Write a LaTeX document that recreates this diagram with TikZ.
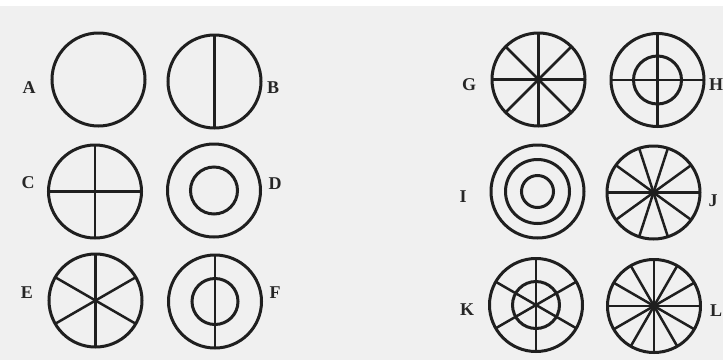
\documentclass[tikz,border=0pt]{standalone}
\usepackage{fontspec}
\setmainfont{Liberation Serif}
\usetikzlibrary{calc}
\begin{document}
\begin{tikzpicture}[x=1pt,y=-1pt,
  ring/.style={line width=3pt,draw=black!88},
  spoke/.style={line width=2.5pt,draw=black!88},
  lab/.style={font=\fontsize{18}{18}\selectfont\bfseries,text=black!85,inner sep=0pt}]
\fill[black!6] (0,0) rectangle (723,360);
\fill[white] (0,0) rectangle (723,6);
\useasboundingbox (0,0) rectangle (723,360);
% centres
\coordinate (cA) at (98.5,79.5);
\coordinate (cB) at (214.5,81.5);
\coordinate (cC) at (95,191.5);
\coordinate (cD) at (214,190.5);
\coordinate (cE) at (95.5,300.5);
\coordinate (cF) at (215,301.5);
\coordinate (cG) at (538.5,79.5);
\coordinate (cH) at (657.5,80);
\coordinate (cI) at (537.5,191.5);
\coordinate (cJ) at (653.5,192.5);
\coordinate (cK) at (536,305);
\coordinate (cL) at (654,306);
\def\R{46.5}
% A
\draw[ring] (cA) circle (\R);
% B
\foreach \a in {90,270} \draw[spoke] (cB) -- ++(\a:\R);
\draw[ring] (cB) circle (\R);
% C
\foreach \a in {0,90,180,270} \draw[spoke] (cC) -- ++(\a:\R);
\draw[ring] (cC) circle (\R);
% D
\draw[ring] (cD) circle (\R);
\draw[ring] (cD) circle (23.5);
% E
\foreach \a in {30,90,150,210,270,330} \draw[spoke] (cE) -- ++(\a:\R);
\draw[ring] (cE) circle (\R);
% F
\foreach \a in {90,270} \draw[spoke] (cF) -- ++(\a:\R);
\draw[ring] (cF) circle (\R);
\draw[ring] (cF) circle (23);
% G
\foreach \a in {0,45,...,315} \draw[spoke] (cG) -- ++(\a:\R);
\draw[ring] (cG) circle (\R);
% H
\foreach \a in {0,90,180,270} \draw[spoke] (cH) -- ++(\a:\R);
\draw[ring] (cH) circle (\R);
\draw[ring] (cH) circle (24);
% I
\draw[ring] (cI) circle (\R);
\draw[ring] (cI) circle (32);
\draw[ring] (cI) circle (16);
% J
\foreach \a in {0,36,...,324} \draw[spoke] (cJ) -- ++(\a:\R);
\draw[ring] (cJ) circle (\R);
% K
\foreach \a in {30,90,150,210,270,330} \draw[spoke] (cK) -- ++(\a:\R);
\draw[ring] (cK) circle (\R);
\draw[ring] (cK) circle (23.5);
% L
\foreach \a in {0,30,...,330} \draw[spoke] (cL) -- ++(\a:\R);
\draw[ring] (cL) circle (\R);
% labels
\node[lab] (lA) at (29,88) {A};
\node[lab] (lB) at (273,88) {B};
\node[lab] (lC) at (28,183) {C};
\node[lab] (lD) at (275,184) {D};
\node[lab] (lE) at (27,293) {E};
\node[lab] (lF) at (275,293) {F};
\node[lab] (lG) at (469,85) {G};
\node[lab] (lH) at (716,85) {H};
\node[lab] (lI) at (463,197) {I};
\node[lab] (lJ) at (713,201) {J};
\node[lab] (lK) at (467,310) {K};
\node[lab] (lL) at (716,311) {L};
\end{tikzpicture}
\end{document}
